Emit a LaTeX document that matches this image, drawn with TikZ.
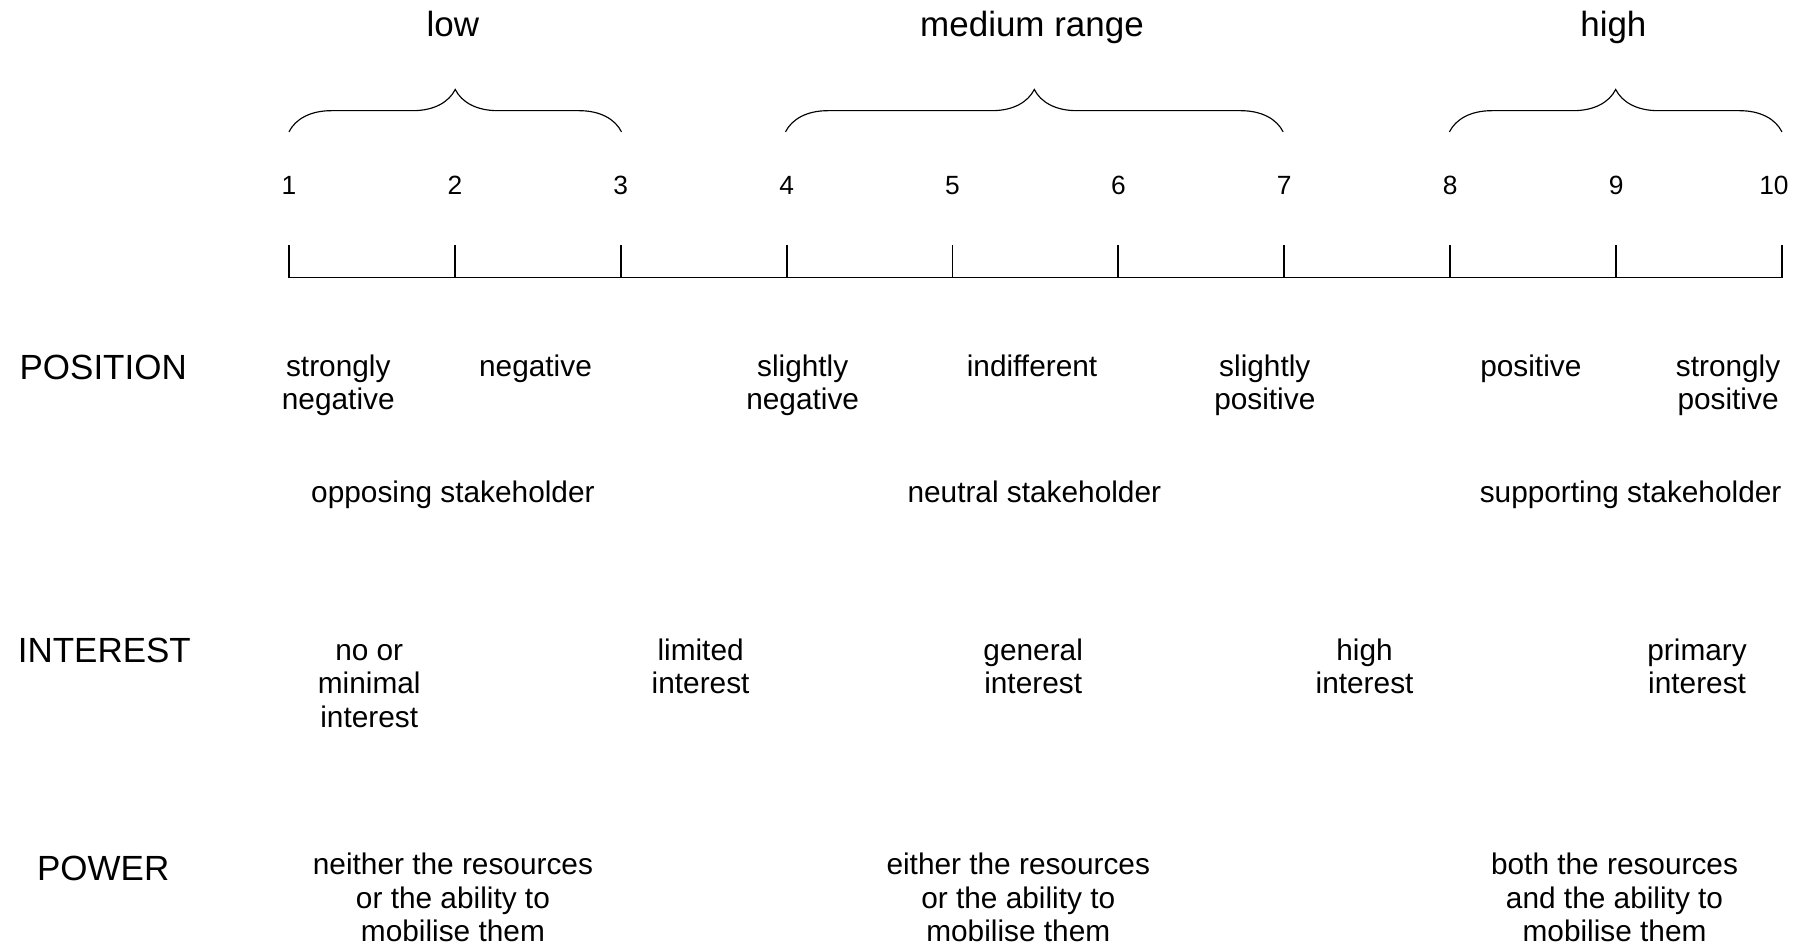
\documentclass[tikz,border=0pt]{standalone}
\usepackage{fontspec}
\setmainfont{Liberation Sans}
\usetikzlibrary{decorations.pathreplacing, positioning}

\tikzset{
	term/.style={font=\fontsize{13pt}{14.5pt}\selectfont, align=center, anchor=base, inner sep=0pt},
	dimension/.style={font=\fontsize{15.25pt}{18pt}\selectfont, anchor=base, inner sep=0pt},
	level/.style={font=\fontsize{15.25pt}{18pt}\selectfont, anchor=base, inner sep=0pt},
	scalenum/.style={font=\fontsize{11.5pt}{14pt}\selectfont, anchor=base, inner sep=0pt},
	grouping/.style={decorate, decoration={brace, amplitude=18.5pt}, line width=0.5pt},
	axis/.style={line width=0.8pt}
}

\begin{document}
\begin{tikzpicture}[x=0.5pt, y=-0.5pt]
			\useasboundingbox (0,0) rectangle (1568,827);
			\foreach \i in {1,...,10} {
				\coordinate (t\i) at ({252+(\i-1)*144.667},242);
				\coordinate (u\i) at ({252+(\i-1)*144.667},214);
			}
			\foreach \i in {1,...,9}
				\node[scalenum] (n\i) at ([yshift=22pt]u\i) {\i};
			\node[scalenum, xshift=-3.5pt] (n10) at ([yshift=22pt]u10) {10};
			\draw[axis] (u1) -- (t1) -- (t10) -- (u10);
			\foreach \i in {2,...,9}
				\draw[axis] (t\i) -- (u\i);

			\coordinate (bl1) at (252,115);
			\coordinate (br1) at (542,115);
			\coordinate (bl2) at (685,115);
			\coordinate (br2) at (1119,115);
			\coordinate (bl3) at (1264,115);
			\coordinate (br3) at (1554,115);
			\draw[grouping] (bl1) -- (br1);
			\draw[grouping] (bl2) -- (br2);
			\draw[grouping] (bl3) -- (br3);

			\node[level] (low) at (395,32) {low};
			\node[level] (medium) at (900,32) {medium range};
			\node[level] (high) at (1407,32) {high};

			\node[dimension] (position) at (90,331) {POSITION};
			\node[dimension] (interest) at (91,578) {INTEREST};
			\node[dimension] (power) at (90,768) {POWER};

			% base anchor = last line
			\node[term] (strneg) at (295,357.5) {strongly\\negative};
			\node[term] (neg) at (467,328.5) {negative};
			\node[term] (slneg) at (700,357.5) {slightly\\negative};
			\node[term] (indiff) at (900,328.5) {indifferent};
			\node[term] (slpos) at (1103,357.5) {slightly\\positive};
			\node[term] (pos) at (1335,328.5) {positive};
			\node[term] (strpos) at (1507,357.5) {strongly\\positive};

			\node[term] (opposing) at (395,438) {opposing stakeholder};
			\node[term] (neutral) at (902,438) {neutral stakeholder};
			\node[term] (supporting) at (1422,438) {supporting stakeholder};

			\node[term] (nointerest) at (322,634) {no or\\minimal\\interest};
			\node[term] (limited) at (611,605) {limited\\interest};
			\node[term] (general) at (901,605) {general\\interest};
			\node[term] (highint) at (1190,605) {high\\interest};
			\node[term] (primary) at (1480,605) {primary\\interest};

			\node[term] (neither) at (395,821) {neither the resources\\or the ability to\\mobilise them};
			\node[term] (either) at (888,821) {either the resources\\or the ability to\\mobilise them};
			\node[term] (both) at (1408,821) {both the resources\\and the ability to\\mobilise them};
\end{tikzpicture}
\end{document}
